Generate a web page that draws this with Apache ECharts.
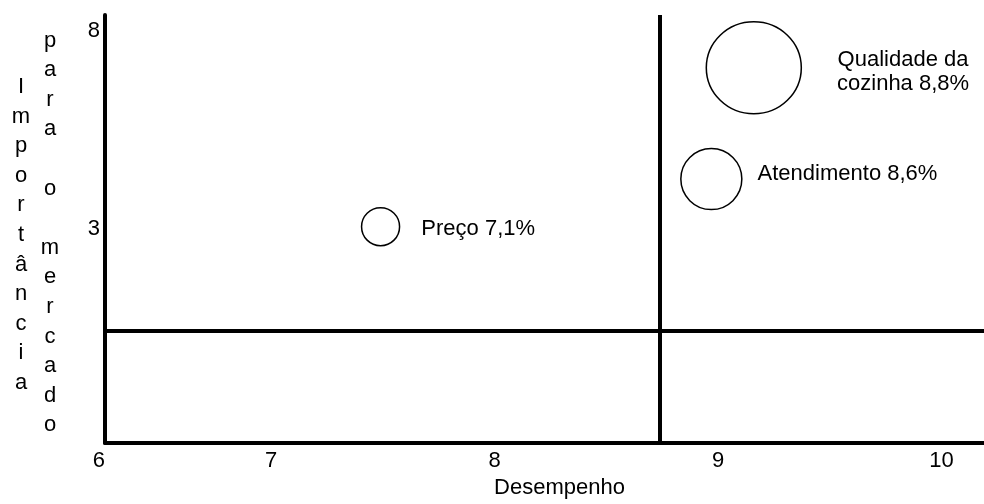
<!DOCTYPE html>
<html>
<head>
<meta charset="utf-8">
<title>Desempenho x Importância</title>
<script src="https://cdn.jsdelivr.net/npm/echarts@6/dist/echarts.min.js"></script>
<style>
  html, body { margin: 0; padding: 0; background: #fff; }
  #main { width: 984px; height: 504px; }
</style>
</head>
<body>
<div id="main"></div>
<script>
// dados
const nomes = ['Preço', 'Atendimento', 'Qualidade da\ncozinha'];
const percentuais = ['7,1%', '8,6%', '8,8%'];
const desempenho = [7.49, 8.97, 9.16];
const importancia = [3.05, 4.25, 7.06];
const xTicks = [7, 8, 9, 10];
const yTicks = [3, 8];
const corteX = 8.74;   // linha vertical dos quadrantes
const corteY = 0.42;   // linha horizontal dos quadrantes

// extremos dos eixos
const xMin = 6.257, xMax = 10.19;
const yMin = -2.41, yMax = 8.39;

const fonte = '"Liberation Sans", Arial, sans-serif';

// tamanho visual de cada bolha
const bolhas = [[38, 38], [61, 61], [95, 92]];
const rotulos = [
  { position: 'right', distance: 21, offset: [0, 2] },
  { position: 'right', distance: 15, offset: [0, -5] },
  { position: 'right', distance: 101, offset: [0, 4], align: 'center', lineHeight: 24 }
];

var myChart = echarts.init(document.getElementById('main'));

const pontos = desempenho.map(function (x, i) {
  return {
    value: [x, importancia[i]],
    name: nomes[i],
    symbolSize: bolhas[i],
    label: Object.assign({
      show: true,
      formatter: nomes[i] + ' ' + percentuais[i],
      color: '#000',
      fontSize: 22,
      fontFamily: fonte
    }, rotulos[i])
  };
});

var option = {
  animation: false,
  grid: { left: 105, right: 0, top: 15, bottom: 58 },
  xAxis: {
    type: 'value',
    min: xMin,
    max: xMax,
    name: 'Desempenho',
    nameLocation: 'middle',
    nameGap: 33,
    nameTextStyle: { color: '#000', fontSize: 22, fontFamily: fonte, padding: [0, 0, 0, 30] },
    axisLine: { onZero: false, lineStyle: { color: '#000', width: 4 } },
    axisTick: { show: false },
    splitLine: { show: false },
    axisLabel: {
      customValues: [xMin].concat(xTicks),
      formatter: function (v) { return v === xMin ? '6' : String(v); },
      alignMinLabel: 'right',
      margin: 7,
      color: '#000',
      fontSize: 22,
      fontFamily: fonte
    }
  },
  yAxis: {
    type: 'value',
    min: yMin,
    max: yMax,
    axisLine: { onZero: false, lineStyle: { color: '#000', width: 4 } },
    axisTick: { show: false },
    splitLine: { show: false },
    axisLabel: {
      customValues: yTicks,
      margin: 5,
      color: '#000',
      fontSize: 22,
      fontFamily: fonte
    }
  },
  graphic: [
    {
      type: 'text',
      x: 21, y: 235,
      style: {
        text: 'Importância'.split('').join('\n'),
        align: 'center', verticalAlign: 'middle',
        fontSize: 22, fontFamily: fonte, lineHeight: 29.6, fill: '#000'
      }
    },
    {
      type: 'text',
      x: 50, y: 233,
      style: {
        text: 'para o mercado'.split('').join('\n'),
        align: 'center', verticalAlign: 'middle',
        fontSize: 22, fontFamily: fonte, lineHeight: 29.6, fill: '#000'
      }
    }
  ],
  series: [{
    type: 'scatter',
    data: pontos,
    itemStyle: { color: '#fff', borderColor: '#000', borderWidth: 1.5, opacity: 1 },
    emphasis: { disabled: true },
    markLine: {
      silent: true,
      symbol: 'none',
      label: { show: false },
      lineStyle: { color: '#000', width: 4, type: 'solid' },
      data: [{ xAxis: corteX }, { yAxis: corteY }]
    },
    z: 3
  }]
};

myChart.setOption(option);

window.addEventListener('resize', function () {
  myChart.resize();
});
</script>
</body>
</html>
